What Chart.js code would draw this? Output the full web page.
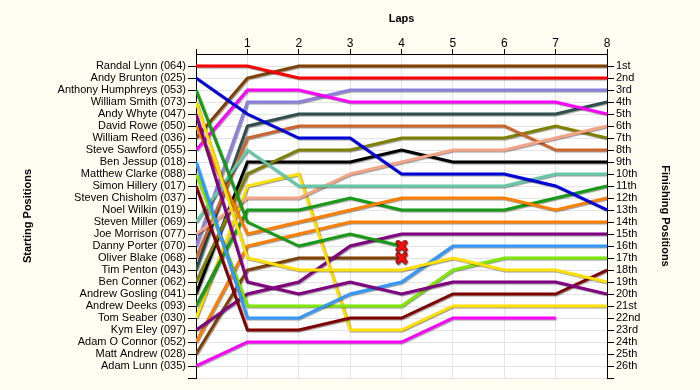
<!DOCTYPE html>
<html>
<head>
<meta charset="utf-8">
<script src="https://cdn.jsdelivr.net/npm/chart.js@4"></script>
<style>
  body { margin: 0; background: #fffef2; }
  #wrap { width: 700px; height: 390px; }
</style>
</head>
<body>
<div id="wrap"><canvas id="mycanvas" width="700" height="390"></canvas></div>
<script>
// starting grid, top to bottom
var startNames = [
  'Randal Lynn (064)', 'Andy Brunton (025)', 'Anthony Humphreys (053)', 'William Smith (073)',
  'Andy Whyte (047)', 'David Rowe (050)', 'William Reed (036)', 'Steve Sawford (055)',
  'Ben Jessup (018)', 'Matthew Clarke (088)', 'Simon Hillery (017)', 'Steven Chisholm (037)',
  'Noel Wilkin (019)', 'Steven Miller (069)', 'Joe Morrison (077)', 'Danny Porter (070)',
  'Oliver Blake (068)', 'Tim Penton (043)', 'Ben Conner (062)', 'Andrew Gosling (041)',
  'Andrew Deeks (093)', 'Tom Seaber (030)', 'Kym Eley (097)', 'Adam O Connor (052)',
  'Matt Andrew (028)', 'Adam Lunn (035)'
];
var finishLabels = [
  '1st', '2nd', '3rd', '4th', '5th', '6th', '7th', '8th', '9th', '10th', '11th', '12th', '13th',
  '14th', '15th', '16th', '17th', '18th', '19th', '20th', '21st', '22nd', '23rd', '24th', '25th', '26th'
];
var laps = [0, 1, 2, 3, 4, 5, 6, 7, 8];

// position of each driver at lap 0..8 (same order as startNames), empty = no lap chart
var lapPositions = [
  [1, 1, 2, 2, 2, 2, 2, 2, 2],
  [2, 5, 7, 7, 10, 10, 10, 11, 13],
  [3, 14, 16, 15, 16],
  [4, 17, 18, 18, 18, 17, 18, 18, 19],
  [5, 19, 20, 19, 20, 19, 19, 19, 20],
  [6, 15, 14, 13, 12, 12, 12, 13, 12],
  [7, 2, 1, 1, 1, 1, 1, 1, 1],
  [8, 3, 3, 4, 4, 4, 4, 4, 5],
  [9, 22, 22, 20, 19, 16, 16, 16, 16],
  [10, 21, 21, 21, 21, 18, 17, 17, 17],
  [11, 23, 23, 22, 22, 20, 20, 20, 18],
  [],
  [],
  [14, 8, 11, 11, 11, 11, 11, 10, 10],
  [15, 12, 12, 10, 9, 8, 8, 7, 6],
  [16, 4, 4, 3, 3, 3, 3, 3, 3],
  [17, 7, 6, 6, 6, 6, 6, 8, 8],
  [18, 6, 5, 5, 5, 5, 5, 5, 4],
  [19, 10, 8, 8, 7, 7, 7, 6, 7],
  [20, 9, 9, 9, 8, 9, 9, 9, 9],
  [21, 13, 13, 12, 13, 13, 13, 12, 11],
  [22, 11, 10, 23, 23, 21, 21, 21, 21],
  [23, 20, 19, 16, 15, 15, 15, 15, 15],
  [24, 16, 15, 14, 14, 14, 14, 14, 14],
  [25, 18, 17, 17, 17],
  [26, 24, 24, 24, 24, 22, 22, 22]
];
// drivers that retired (cross on their last lap)
var retired = ['Anthony Humphreys (053)', 'Matt Andrew (028)'];

var colours = [
  '#ff0000', '#0000d8', '#179a17', '#ffe000', '#800080', '#ff8000', '#804000', '#ff00ff',
  '#3399ff', '#80e800', '#800000', '#999999', '#cccccc', '#66c8a8', '#f6a488', '#8c80dc',
  '#cc6630', '#2f4f4f', '#808000', '#000000', '#179a17', '#ffe000', '#800080', '#ff8000',
  '#804000', '#ff00ff'
];

// red cross used for retirements
var cross = document.createElement('canvas');
cross.width = 13; cross.height = 13;
var cc = cross.getContext('2d');
cc.lineCap = 'round';
cc.strokeStyle = '#8b0000'; cc.lineWidth = 5;
cc.beginPath(); cc.moveTo(3, 3); cc.lineTo(10, 10); cc.moveTo(10, 3); cc.lineTo(3, 10); cc.stroke();
cc.strokeStyle = '#ff1010'; cc.lineWidth = 3;
cc.beginPath(); cc.moveTo(3, 3); cc.lineTo(10, 10); cc.moveTo(10, 3); cc.lineTo(3, 10); cc.stroke();

var datasets = [];
for (var i = 0; i < startNames.length; i++) {
  var pos = lapPositions[i];
  if (pos.length === 0) continue;
  var pts = [];
  for (var j = 0; j < pos.length; j++) {
    pts.push({ x: laps[j], y: pos[j] });
  }
  var out = retired.indexOf(startNames[i]) >= 0;
  datasets.push({
    label: startNames[i],
    data: pts,
    borderColor: colours[i],
    backgroundColor: colours[i],
    borderWidth: 3,
    tension: 0,
    fill: false,
    pointStyle: out ? cross : 'circle',
    pointRadius: (function(isOut, last) {
      return function(ctx) { return (isOut && ctx.dataIndex === last) ? 6 : 0; };
    })(out, pos.length - 1)
  });
}

var paper = {
  id: 'paper',
  beforeDraw: function(chart) {
    var c = chart.ctx, a = chart.chartArea;
    c.save();
    c.fillStyle = '#fffef2';
    c.fillRect(0, 0, chart.width, chart.height);
    c.fillStyle = '#ffffff';
    c.fillRect(a.left, a.top, a.right - a.left, a.bottom - a.top);
    c.restore();
  },
  beforeDatasetsDraw: function(chart) {
    var c = chart.ctx;
    c.save();
    c.shadowColor = 'rgba(0,0,0,0.4)';
    c.shadowOffsetX = 1;
    c.shadowOffsetY = 1;
    c.shadowBlur = 1;
  },
  afterDatasetsDraw: function(chart) {
    chart.ctx.restore();
  }
};

Chart.defaults.font.family = '"Liberation Sans", Arial, sans-serif';
Chart.defaults.color = '#000';

var hideZero = function(ctx) { return ctx.tick && ctx.tick.value === 0 ? 'rgba(0,0,0,0)' : '#000'; };

var ctx = document.getElementById('mycanvas');
var lapChart = new Chart(ctx, {
  type: 'line',
  data: { datasets: datasets },
  options: {
    responsive: false,
    animation: false,
    events: [],
    layout: { padding: { top: 0, left: 0, right: 0, bottom: 12 } },
    plugins: { legend: { display: false }, tooltip: { enabled: false } },
    scales: {
      x: {
        type: 'linear',
        position: 'top',
        min: 0,
        max: 8,
        afterFit: function(s) { s.height = 54; },
        ticks: {
          stepSize: 1,
          padding: -2,
          font: { size: 12 },
          callback: function(v) { return v === 0 ? '' : v; }
        },
        grid: { color: '#e4e4e4', tickLength: 5, tickColor: '#000' },
        border: { color: '#000', width: 1 },
        title: {
          display: true, text: 'Laps',
          font: { size: 11, weight: 'bold' },
          padding: { top: 12, bottom: 0 }
        }
      },
      y: {
        type: 'linear',
        position: 'left',
        reverse: true,
        min: 0,
        max: 27,
        afterFit: function(s) { s.width = 196; },
        ticks: {
          stepSize: 1,
          autoSkip: false,
          padding: 2,
          font: { size: 11 },
          callback: function(v) { return startNames[v - 1] || ''; }
        },
        grid: { color: '#e4e4e4', tickLength: 8, tickColor: hideZero },
        border: { color: '#000', width: 1 },
        title: {
          display: true, text: 'Starting Positions',
          font: { size: 11, weight: 'bold' },
          padding: { top: 21, bottom: 0 }
        }
      },
      y2: {
        type: 'linear',
        position: 'right',
        reverse: true,
        min: 0,
        max: 27,
        afterFit: function(s) { s.width = 93; },
        ticks: {
          stepSize: 1,
          autoSkip: false,
          padding: 2,
          font: { size: 11 },
          callback: function(v) { return finishLabels[v - 1] || ''; }
        },
        grid: { drawOnChartArea: false, tickLength: 7, tickColor: hideZero },
        border: { color: '#000', width: 1 },
        title: {
          display: true, text: 'Finishing Positions',
          font: { size: 11, weight: 'bold' },
          padding: { top: 28, bottom: 0 }
        }
      }
    }
  },
  plugins: [paper]
});
</script>
</body>
</html>
